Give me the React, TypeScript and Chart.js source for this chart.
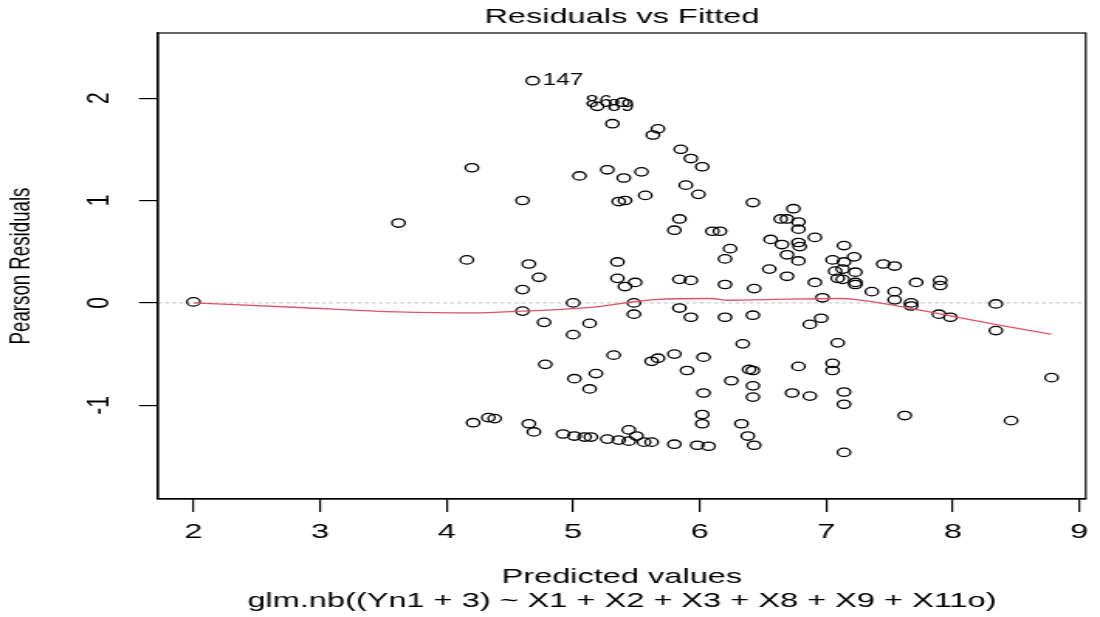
import React, { useEffect, useRef } from "react";
import { Chart, registerables } from "chart.js";

Chart.register(...registerables);

// ---- data ----
const fittedValues = [
  2.00, 3.62, 4.20, 4.16, 4.60, 4.65, 4.73, 4.60, 5.00, 4.60,
  4.77, 5.13, 5.00, 4.78, 5.18, 5.01, 5.13, 4.21, 4.33, 4.38,
  4.65, 4.69, 4.92, 5.01, 5.09, 5.14, 5.27, 5.36, 5.44, 5.50,
  5.44, 5.56, 5.62, 5.80, 5.98, 6.07, 4.68, 5.19, 5.39, 5.31,
  5.05, 5.27, 5.40, 5.36, 5.41, 5.67, 5.63, 5.85, 5.93, 6.02,
  5.54, 5.89, 5.99, 5.57, 6.42, 6.74, 6.64, 6.69, 6.78, 6.78,
  5.84, 5.80, 6.10, 6.16, 6.24, 6.20, 6.56, 6.65, 6.78, 6.79,
  6.91, 6.69, 6.78, 6.55, 6.69, 6.91, 7.05, 7.14, 5.35, 5.35,
  5.49, 5.41, 5.84, 5.93, 6.20, 6.43, 6.97, 7.14, 7.22, 7.07,
  7.13, 7.23, 7.09, 7.13, 7.23, 7.23, 7.45, 7.54, 7.36, 7.54,
  7.54, 7.71, 7.90, 7.90, 7.67, 7.67, 7.89, 7.98, 8.34, 8.34,
  8.78, 6.96, 6.87, 7.09, 6.78, 7.05, 7.05, 7.14, 7.14, 7.62,
  7.14, 8.46, 5.48, 5.48, 5.84, 5.93, 6.20, 6.42, 6.34, 5.32,
  5.62, 5.67, 5.80, 6.03, 5.90, 6.39, 6.42, 6.25, 6.42, 6.03,
  6.42, 6.73, 6.87, 6.02, 6.02, 6.33, 6.38, 6.43,
];
const pearsonResiduals = [
  0.01, 0.78, 1.32, 0.42, 1.00, 0.38, 0.25, 0.13, 0.00, -0.08,
  -0.19, -0.20, -0.31, -0.60, -0.69, -0.74, -0.84, -1.17, -1.12, -1.13,
  -1.18, -1.26, -1.28, -1.30, -1.31, -1.31, -1.33, -1.34, -1.24, -1.30,
  -1.35, -1.36, -1.36, -1.38, -1.39, -1.40, 2.17, 1.92, 1.96, 1.75,
  1.24, 1.30, 1.22, 0.99, 1.00, 1.70, 1.64, 1.50, 1.41, 1.33,
  1.28, 1.15, 1.06, 1.05, 0.98, 0.92, 0.82, 0.82, 0.79, 0.72,
  0.82, 0.71, 0.70, 0.70, 0.53, 0.43, 0.62, 0.57, 0.59, 0.55,
  0.64, 0.47, 0.41, 0.33, 0.26, 0.20, 0.42, 0.56, 0.40, 0.24,
  0.20, 0.16, 0.23, 0.22, 0.18, 0.14, 0.05, 0.40, 0.45, 0.31,
  0.33, 0.30, 0.24, 0.23, 0.20, 0.18, 0.38, 0.36, 0.11, 0.11,
  0.03, 0.20, 0.22, 0.17, 0.00, -0.03, -0.11, -0.14, -0.01, -0.27,
  -0.73, -0.15, -0.21, -0.39, -0.62, -0.59, -0.66, -0.87, -0.99, -1.10,
  -1.46, -1.15, 0.00, -0.11, -0.05, -0.14, -0.14, -0.12, -0.40, -0.51,
  -0.57, -0.54, -0.50, -0.53, -0.66, -0.65, -0.66, -0.76, -0.81, -0.88,
  -0.92, -0.88, -0.91, -1.09, -1.18, -1.18, -1.30, -1.39,
];
// smoother (lowess) curve
const smoothX = [2.00, 2.83, 3.61, 4.21, 4.60, 5.00, 5.18, 5.41, 5.65, 6.09, 6.22, 6.53, 7.11, 7.24, 7.37, 7.68, 8.02, 8.41, 8.78];
const smoothY = [0.00, -0.045, -0.088, -0.098, -0.081, -0.055, -0.039, 0.00, 0.033, 0.043, 0.026, 0.033, 0.043, 0.033, 0.01, -0.055, -0.137, -0.227, -0.305];
// identified observations
const idLabels = ["147", "86", "89"];
const idIndex = [36, 38, 37];
const idSide = [1, -1, 1];
const xTicks = [2, 3, 4, 5, 6, 7, 8, 9];
const yTicks = [-1, 0, 1, 2];

const titleText = "Residuals vs Fitted";
const xLabel = "Predicted values";
const subCaption = "glm.nb((Yn1 + 3) ~ X1 + X2 + X3 + X8 + X9 + X11o)";
const yLabel = "Pearson Residuals";

// ---- layout (final-pixel geometry, canvas is stretched horizontally) ----
const OUT_W = 1100;
const OUT_H = 617;
const STRETCH = 1.55;
const CW = Math.round(OUT_W / STRETCH);
const SX = OUT_W / CW;
const cx = (px: number) => px / SX;
const FONT = "'Liberation Sans', Arial, sans-serif";
const F = 21;
const FYLAB = 18.7;

const overlayPlugin = {
  id: "rOverlay",
  beforeDatasetsDraw(chart: any) {
    const { ctx, chartArea: a, scales } = chart;
    const y0 = scales.y.getPixelForValue(0);
    ctx.save();
    ctx.strokeStyle = "#BEBEBE";
    ctx.lineWidth = 1;
    ctx.setLineDash([2.6, 2]);
    ctx.beginPath();
    ctx.moveTo(a.left, y0);
    ctx.lineTo(a.right, y0);
    ctx.stroke();
    ctx.restore();
  },
  afterDatasetsDraw(chart: any) {
    const { ctx, chartArea: a, scales } = chart;
    ctx.save();
    ctx.fillStyle = "#000";
    ctx.font = `${F * 0.75}px ${FONT}`;
    ctx.textBaseline = "middle";
    idLabels.forEach((lab, k) => {
      const i = idIndex[k];
      const px = scales.x.getPixelForValue(fittedValues[i]);
      const py = scales.y.getPixelForValue(pearsonResiduals[i]);
      ctx.textAlign = idSide[k] > 0 ? "left" : "right";
      ctx.fillText(lab, px + idSide[k] * cx(10), py);
    });
    ctx.strokeStyle = "#000";
    ctx.lineWidth = 1.2;
    ctx.strokeRect(a.left, a.top, a.right - a.left, a.bottom - a.top);
    ctx.restore();
  },
};

export default function App() {
  const ref = useRef<HTMLCanvasElement | null>(null);
  useEffect(() => {
    if (!ref.current) return;
    const chart = new Chart(ref.current, {
      type: "scatter",
      data: {
        datasets: [
          {
            type: "line",
            data: smoothX.map((x, i) => ({ x, y: smoothY[i] })),
            borderColor: "#DF536B",
            borderWidth: 1.3,
            pointRadius: 0,
            cubicInterpolationMode: "monotone",
            fill: false,
            order: 0,
          } as any,
          {
            data: fittedValues.map((x, i) => ({ x, y: pearsonResiduals[i] })),
            pointStyle: "circle",
            pointRadius: 4.2,
            borderColor: "#000",
            backgroundColor: "rgba(0,0,0,0)",
            borderWidth: 1.3,
            order: 1,
          },
        ],
      },
      options: {
        responsive: false,
        animation: false,
        devicePixelRatio: 1,
        events: [],
        layout: { padding: { left: 0, right: cx(OUT_W - 1094), top: 0, bottom: 0 } },
        plugins: {
          legend: { display: false },
          tooltip: { enabled: false },
          title: {
            display: true,
            text: titleText,
            fullSize: false,
            color: "#000",
            font: { family: FONT, size: F, weight: "normal", lineHeight: 1.2 },
            padding: { top: 4.4, bottom: 3.4 },
          },
        },
        scales: {
          x: {
            type: "linear",
            min: 1.72,
            max: 9.05,
            afterBuildTicks: (s: any) => {
              s.ticks = xTicks.map((v) => ({ value: v }));
            },
            afterFit: (s: any) => {
              s.height = OUT_H - 499;
            },
            grid: { display: true, drawOnChartArea: false, drawTicks: true, tickLength: 13, color: "#000", lineWidth: 1.2 },
            border: { display: true, color: "#000", width: 1.2 },
            ticks: { color: "#000", font: { family: FONT, size: F }, padding: 7.4, maxRotation: 0, autoSkip: false },
            title: {
              display: true,
              text: [xLabel, subCaption],
              color: "#000",
              font: { family: FONT, size: F, lineHeight: "24px" },
              padding: { top: 0, bottom: 4 },
            },
          },
          y: {
            type: "linear",
            min: -1.915,
            max: 2.636,
            afterBuildTicks: (s: any) => {
              s.ticks = yTicks.map((v) => ({ value: v }));
            },
            afterFit: (s: any) => {
              s.width = cx(158);
            },
            grid: { display: true, drawOnChartArea: false, drawTicks: true, tickLength: cx(19), color: "#000", lineWidth: 1.2 },
            border: { display: true, color: "#000", width: 1.2 },
            ticks: {
              color: "#000",
              font: { family: FONT, size: F },
              minRotation: 90,
              maxRotation: 90,
              crossAlign: "center",
              padding: 16,
              autoSkip: false,
            },
            title: {
              display: true,
              text: yLabel,
              color: "#000",
              font: { family: FONT, size: FYLAB, lineHeight: 1.2 },
              padding: { top: 2.7, bottom: 0 },
            },
          },
        },
      } as any,
      plugins: [overlayPlugin],
    });
    return () => chart.destroy();
  }, []);

  return (
    <div style={{ position: "fixed", left: 0, top: 0, width: OUT_W, height: OUT_H, background: "#fff" }}>
      <canvas
        ref={ref}
        width={CW}
        height={OUT_H}
        style={{ width: `${OUT_W}px`, height: `${OUT_H}px`, display: "block" }}
      />
    </div>
  );
}
